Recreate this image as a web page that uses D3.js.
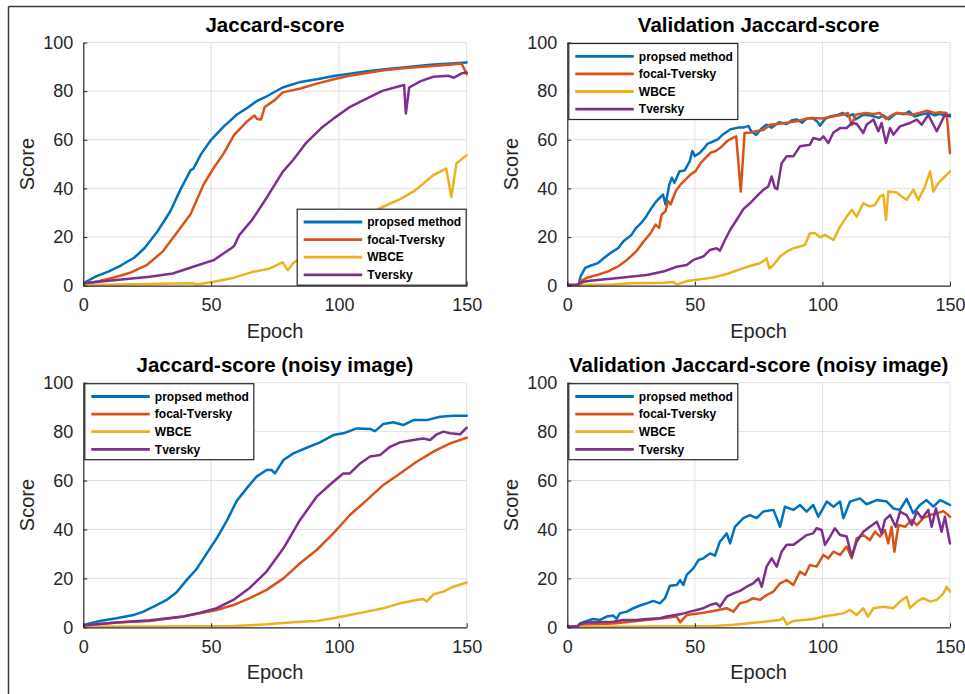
<!DOCTYPE html>
<html>
<head>
<meta charset="utf-8">
<script src="https://cdn.jsdelivr.net/npm/d3@7"></script>
<style>
  html, body { margin: 0; padding: 0; background: #fff; }
  svg { display: block; }
  text { font-family: "Liberation Sans", Arial, Helvetica, sans-serif; }
</style>
</head>
<body>
<svg id="chart" width="965" height="694"></svg>
<script>
// ---------------- DATA ----------------
const seriesNames = ["propsed method", "focal-Tversky", "WBCE", "Tversky"];
const panelTitles = ["Jaccard-score", "Validation Jaccard-score", "Jaccard-score (noisy image)", "Validation Jaccard-score (noisy image)"];
const xTicks = [0, 50, 100, 150];
const yTicks = [0, 20, 40, 60, 80, 100];
const xLabel = "Epoch";
const yLabel = "Score";

// Panel 1: Jaccard-score  ([epoch, score])
const jacProposed = [[0,1],[5,3.8],[10,5.9],[15,8.5],[20,11.6],[24,15.5],[29,22.3],[34,30.5],[38,39.5],[42,47.5],[43,48],[46,54],[50,60],[55,65.5],[60,70.3],[64,73],[68,76],[72,78],[78,81.5],[85,83.8],[92,85],[98,86.2],[105,87.3],[111,88.2],[118,89],[124,89.6],[130,90.2],[137,91],[144,91.4],[150,91.8]];
const jacFocal = [[0,0.8],[6,1.8],[12,3.4],[18,5.2],[25,8.6],[31,14],[36,21],[42,29.5],[47,41.5],[51,48.4],[55,54.5],[59,62],[64,67.5],[67,70],[68,68.5],[69.5,68.3],[71,73.5],[75,76.4],[78,79.5],[85,81.1],[91,83],[98,84.9],[104,86.3],[111,87.5],[117,88.5],[124,89.3],[130,89.8],[137,90.3],[143,90.9],[148,91.4],[150,87]];
const jacWBCE = [[0,0.3],[15,0.5],[30,0.8],[43,1],[44.5,0.5],[51,1.6],[59,3.3],[66,5.6],[73,7.1],[78,9.6],[80,6.4],[82,9.2],[90,15],[100,22],[110,28],[116,31.8],[120,33.8],[124,35.6],[130,39.3],[137,45.5],[142,48.2],[144,36.6],[146,50.3],[150,53.7]];
const jacTversky = [[0,1],[13,2.3],[26,3.7],[35,5],[43,7.8],[51,10.5],[58,15.5],[59,16.3],[61,20.8],[66,27],[72,36.6],[78,46.8],[82,51.6],[87,58.5],[93,64.7],[98,68.8],[104,73.3],[111,77],[117,80.1],[124,82.1],[125.5,82.5],[126.2,70.8],[127.5,81.5],[132,84.1],[137,85.9],[143,86.3],[145,85.5],[148,87.3],[150,87.7]];

// Panel 2: Validation Jaccard-score
const valProposed = [[0,0.3],[4.5,0.4],[5.2,3.8],[7,7.3],[9,8.2],[12,9.3],[14,11.1],[17,13.5],[20,15.5],[22,18.3],[25,20.7],[27,23.8],[29,25.8],[31,28.6],[33,32],[35,34.8],[36.5,36.4],[37.5,37.5],[38.5,33.4],[40,41.6],[41,44.4],[42,42.3],[44,47.1],[46,47.4],[48,51.2],[49,55.4],[50,53.3],[52,54.7],[54,57],[55,58.4],[57,59.2],[59,60.2],[61,62.2],[64,64.3],[67,65],[69,65],[71,65.7],[72,63.6],[74,62],[76,64.5],[78,66.2],[80,65],[83,67.2],[86,66.5],[88,68],[90,68.3],[92,67],[94,68.8],[96,69],[98,67.5],[99,65.8],[101,68.5],[103,69.6],[106,70.2],[108,71],[110,69.6],[112,70.5],[113,68.4],[116,70.3],[119,70],[122,69],[124,70],[126,68.4],[129,71],[132,70.5],[134,71.7],[136,69.6],[139,70.5],[142,71],[144,70],[146,70.7],[148,69.8],[150,70.3]];
const valFocal = [[0,0.3],[4.5,0.4],[5.2,1.8],[8,3.4],[12,4.5],[16,5.9],[20,8],[23.5,10.7],[27,14.1],[30,18.3],[32.7,21.7],[34.6,25.1],[36,23.8],[37,29.3],[38.5,30.6],[39.5,34.8],[40.5,33.4],[42.5,38.9],[44.4,41.6],[46.4,43.7],[48.3,45.7],[50.3,47.1],[52.3,50.5],[54.2,52.6],[56.2,54.7],[58.2,55.4],[60,56.7],[62.7,59.5],[65,60.9],[66.2,61.4],[68,38.7],[69.5,62.8],[72,63],[74,63.5],[77,64.1],[79.5,66.2],[83,66.6],[86,67],[90,67.6],[93,68.5],[96,69],[100,68.8],[103,69.4],[106,70],[108,70.3],[110,71],[111.5,66.2],[113,70.3],[117,71],[120,70.6],[122.5,71],[125,68.5],[127,70],[129,71],[132,70.8],[135,70.3],[138,71],[141,72],[144,71],[146,71.3],[148.7,71],[150,54.5]];
const valWBCE = [[0,0.2],[10,0.4],[18,0.5],[24.6,1],[37.6,1.2],[41.6,1.5],[42.9,0.5],[46.8,1.9],[52,2.6],[57.2,3.4],[62.5,4.8],[67.7,6.7],[71.6,8.1],[75.5,9.2],[77.5,10.6],[78.1,11.3],[79.2,7.1],[80.8,8.5],[83.4,12],[86,14],[88.6,15.4],[91.2,16.1],[93.2,16.8],[95.1,21.6],[97.1,21.6],[99,19.9],[101,20.9],[104.3,18.8],[106.9,24.3],[109.5,28.4],[111.5,31.2],[113.4,28.4],[116,33.9],[118.6,32.6],[120.6,33.2],[122.6,36.7],[123.9,37.4],[124.9,27.1],[125.8,38.7],[129.1,38.3],[131.1,36.7],[133,35.3],[135.6,39.4],[137.6,35.3],[140.2,40.8],[142.2,47],[143.5,38.7],[145.4,42.2],[148,44.9],[150,47]];
const valTversky = [[0,0.3],[3.7,0.3],[6.3,1.6],[8.9,2],[18,3],[24.6,3.7],[31.1,4.4],[37.6,5.8],[42.9,7.8],[46.8,8.5],[49.4,10.6],[53.3,12],[55.9,14.7],[58.5,15.4],[59.8,14.4],[61.8,18.8],[63.8,22.9],[66.4,27.1],[69,31.5],[71.6,33.9],[74.2,36.7],[76.8,39.4],[78.8,40.8],[80.1,44.9],[81.4,40.1],[82.3,39.7],[84,50.4],[86,53.2],[88.6,53.2],[91.2,57.3],[95.1,58],[96.4,60.7],[99,60],[100.4,61.4],[102.3,58.7],[104.3,63],[106.9,64.8],[109.5,64.8],[111.5,66.9],[113.4,66.6],[116,62.8],[117.3,66.2],[120,68.3],[121.9,63.5],[123.2,66.9],[124.9,58.7],[126.5,64.8],[127.8,62.1],[130.4,65.5],[134.3,66.9],[137,68.3],[138.9,66.2],[141.5,70.3],[144.8,63.5],[148,70.3],[150,69.6]];

// Panel 3: Jaccard-score (noisy image)
const noisyProposed = [[0,1],[6.5,2.6],[13,3.7],[19.6,5],[23.5,6.4],[28.7,9.1],[32.6,11.2],[36.5,14.3],[40.4,19.3],[44.3,23.8],[48.3,30.2],[52.2,36.4],[56.1,43.5],[60,51.6],[63.9,56.8],[67.8,61.6],[71.7,64.3],[73.7,64.3],[75,62.9],[78.3,68.4],[82.2,71.1],[87.4,73.4],[92.6,75.6],[97.8,78.6],[101.7,79.3],[107,81.3],[112.2,81.1],[114.1,80.2],[117.4,83.1],[121.3,83.8],[125.2,82.7],[129.1,84.7],[134.3,84.7],[139.6,86.1],[144.8,86.5],[150,86.5]];
const noisyFocal = [[0,0.7],[13,2],[26.1,2.6],[39.1,4.4],[45.7,5.7],[52.2,7.1],[58.7,9.1],[65.2,11.9],[71.7,15.3],[78.3,20],[84.8,26.2],[91.3,31.6],[97.8,38.4],[104.3,45.9],[110.9,52],[117.4,58.2],[123.9,62.9],[130.4,67.7],[137,71.8],[143.5,75.2],[150,77.5]];
const noisyWBCE = [[0,0.3],[30,0.3],[58.7,0.5],[71.7,1.2],[84.8,2.3],[91.3,2.6],[97.8,3.7],[104.3,5],[110.9,6.4],[117.4,7.8],[123.9,9.8],[130.4,11.2],[133,11.6],[134.3,10.5],[137,13.5],[140.9,14.6],[144.8,16.6],[150,18.3]];
const noisyTversky = [[0,0.7],[13,2],[26.1,2.9],[39.1,4.4],[45.7,6],[52.2,7.8],[58.7,11.2],[65.2,16.2],[71.7,22.8],[78.3,32.3],[84.8,43.9],[91.3,53.4],[97.8,59.5],[101.7,62.9],[104.3,62.9],[108.3,67],[112.2,69.8],[116.1,70.4],[120,73.8],[123.9,75.6],[129.1,76.6],[133,77.2],[135.7,76.6],[138.3,78.9],[140.9,80],[143.5,79.3],[147.4,78.9],[150,81.6]];

// Panel 4: Validation Jaccard-score (noisy image)
const noisyValProposed = [[0,0.3],[3.7,0.3],[5,1.6],[7.6,2.6],[10.2,3.4],[12.8,3],[15.4,4.4],[18,4.8],[19.3,3.4],[20.6,5.7],[23.3,6.4],[25.9,7.8],[28.5,8.9],[31.1,9.8],[33.7,10.8],[36.3,9.8],[38.3,11.9],[40.2,17],[42.9,17.3],[44.2,19.3],[45.5,17.3],[46.8,21.4],[49.4,24.1],[51.4,27.5],[53.3,28.2],[55.9,30.2],[57.9,29.3],[59.8,35],[62.5,38.4],[63.8,34.3],[65.7,41.1],[69,44.6],[71.6,45.9],[74.2,44.6],[76.8,47.3],[80.8,48],[83.4,41.1],[85.3,49.3],[88.6,48],[91.2,50],[93.8,47.3],[96.4,50],[98.4,45.2],[101.7,51.4],[104.3,49.3],[106.9,51.4],[108.2,44.6],[110.8,51.4],[114.7,52.7],[117.3,50.3],[121.3,52],[125.2,51.4],[127.8,48.6],[130.4,48],[133,52.5],[135.6,46.6],[138.2,50],[140.8,52],[143.5,49.3],[146.1,52],[148,51.1],[150,50]];
const noisyValFocal = [[0,0.3],[4,0.3],[5,1],[18,1.6],[24.6,2.3],[31.1,3],[37.6,3.7],[42.9,4.4],[44.2,2],[46.8,5],[52,5.7],[57.2,6.7],[62.5,7.8],[65.1,6.4],[67.7,9.8],[70.3,10.5],[72.9,11.9],[75.5,11.2],[78.1,13.2],[80.8,14.6],[83.4,18],[86,19.3],[88.6,17.3],[91.2,22.8],[93.2,21.4],[95.1,25.5],[97.7,24.8],[100.4,29.6],[102.3,28.2],[104.3,30.9],[106.9,29.6],[109.5,33],[111.5,28.2],[113.4,36.4],[116,37.7],[118.6,35.7],[120.6,39.1],[122.6,37.1],[124.5,39.8],[125.8,34.3],[127.1,41.1],[128.2,30.9],[129.8,41.8],[132.4,41.1],[135,43.9],[137,41.8],[139.5,44.6],[142.2,45.9],[144.8,46.6],[147.4,47.5],[150,45.2]];
const noisyValWBCE = [[0,0.2],[30,0.3],[57.2,0.5],[65.1,1],[70.3,1.6],[76.8,2.3],[83.4,3],[84.6,4],[86,1.2],[88.6,2.6],[92.5,3],[96.4,3.4],[100.4,4.4],[104.3,5],[108.2,5.7],[110.8,7.1],[113.4,5],[116,7.8],[117.9,4.4],[120,7.8],[123.9,8.4],[127.8,7.8],[130.4,10.5],[133,12.5],[134.3,7.8],[137,10.5],[139.5,11.9],[142.2,10.5],[144.8,11.2],[147.4,13.9],[148.7,16.6],[150,14.6]];
const noisyValTversky = [[0,0.3],[4,0.3],[5,1.2],[7.6,2],[18,2.3],[22,3],[27.2,3],[31.1,3.4],[36.3,3.7],[38.9,4.4],[44.2,5.3],[48.1,6.4],[50.7,7.1],[53.3,7.8],[55.9,9.1],[58.5,9.8],[59.8,8.4],[62.5,12.5],[65.1,13.9],[67.7,14.9],[70.3,16.6],[72.9,18],[74.9,20],[76.2,16.6],[78.1,24.8],[80.1,28.2],[82.1,24.8],[84,30.9],[86,33.7],[88.6,33.7],[91.2,35.7],[93.8,37.7],[96.4,38.4],[97.7,40.5],[99.7,39.8],[101,33.7],[103,37.1],[104.9,40.5],[106.9,37.7],[109.5,37.1],[111.5,28.9],[113.4,35],[116,39.1],[118.6,41.1],[121.3,43.2],[123.2,38.4],[124.5,43.9],[126.5,45.9],[128.7,41.1],[130.4,47.3],[133,45.9],[135,41.8],[137,47.3],[139,44.6],[141.5,48],[142.8,41.1],[144.5,48.6],[146.7,39.1],[148,45.2],[150,34.3]];

// ---------------- STYLE / LAYOUT ----------------
const colors = ["#0072BD", "#D95319", "#EDB120", "#7E2F8E"];
const axisColor = "#262626";
const gridColor = "#e1e1e1";

const panels = [
  { title: panelTitles[0], data: [jacProposed, jacFocal, jacWBCE, jacTversky],
    left: 83.3, top: 42.5, width: 383.4, height: 243.2, legend: "se" },
  { title: panelTitles[1], data: [valProposed, valFocal, valWBCE, valTversky],
    left: 567.3, top: 42.5, width: 382.7, height: 243.2, legend: "nw" },
  { title: panelTitles[2], data: [noisyProposed, noisyFocal, noisyWBCE, noisyTversky],
    left: 83.3, top: 382.7, width: 383.4, height: 244.6, legend: "nw" },
  { title: panelTitles[3], data: [noisyValProposed, noisyValFocal, noisyValWBCE, noisyValTversky],
    left: 567.3, top: 382.7, width: 382.7, height: 244.6, legend: "nw" }
];

const svg = d3.select("#chart");

// outer frame
svg.append("line").attr("x1", 8.5).attr("x2", 8.5).attr("y1", 6.5).attr("y2", 694)
  .attr("stroke", "#3a3a3a").attr("stroke-width", 1.5);
svg.append("line").attr("x1", 8.5).attr("x2", 965).attr("y1", 6.5).attr("y2", 6.5)
  .attr("stroke", "#3a3a3a").attr("stroke-width", 1.5);

panels.forEach((p, pi) => {
  const g = svg.append("g").attr("transform", `translate(${p.left},${p.top})`);
  const x = d3.scaleLinear().domain([0, 150]).range([0, p.width]);
  const y = d3.scaleLinear().domain([0, 100]).range([p.height, 0]);

  // grid
  g.append("g").selectAll("line.gx").data(xTicks.filter(d => d > 0)).join("line")
    .attr("x1", d => x(d)).attr("x2", d => x(d)).attr("y1", 0).attr("y2", p.height)
    .attr("stroke", gridColor).attr("stroke-width", 1);
  g.append("g").selectAll("line.gy").data(yTicks.filter(d => d > 0)).join("line")
    .attr("x1", 0).attr("x2", p.width).attr("y1", d => y(d)).attr("y2", d => y(d))
    .attr("stroke", gridColor).attr("stroke-width", 1);

  // clip
  const clipId = "clip" + pi;
  g.append("clipPath").attr("id", clipId).append("rect")
    .attr("x", 0).attr("y", -2).attr("width", p.width + 2).attr("height", p.height + 2);

  const line = d3.line().x(d => x(d[0])).y(d => y(d[1]));
  const lg = g.append("g").attr("clip-path", `url(#${clipId})`);
  p.data.forEach((s, si) => {
    lg.append("path").datum(s).attr("d", line)
      .attr("fill", "none").attr("stroke", colors[si]).attr("stroke-width", 2.5)
      .attr("stroke-linejoin", "round").attr("stroke-linecap", "round");
  });

  // axes
  const xAxis = d3.axisBottom(x).tickValues(xTicks).tickSizeInner(-4).tickSizeOuter(0).tickPadding(13);
  const yAxis = d3.axisLeft(y).tickValues(yTicks).tickSizeInner(-4).tickSizeOuter(0).tickPadding(10);
  const gx = g.append("g").attr("transform", `translate(0,${p.height})`).call(xAxis);
  const gy = g.append("g").call(yAxis);
  [gx, gy].forEach(a => {
    a.select(".domain").attr("stroke", axisColor).attr("stroke-width", 1.2);
    a.selectAll(".tick line").attr("stroke", axisColor).attr("stroke-width", 1);
    a.selectAll(".tick text").attr("fill", axisColor).style("font-size", "18px")
      .style("font-family", '"Liberation Sans", Arial, Helvetica, sans-serif');
  });

  // axis labels
  g.append("text").attr("x", p.width / 2).attr("y", p.height + 52)
    .attr("text-anchor", "middle").attr("fill", axisColor).style("font-size", "20px").text(xLabel);
  g.append("text").attr("transform", `translate(${-49},${p.height / 2}) rotate(-90)`)
    .attr("text-anchor", "middle").attr("fill", axisColor).style("font-size", "20px").text(yLabel);

  // title
  g.append("text").attr("x", p.width / 2).attr("y", -11)
    .attr("text-anchor", "middle").attr("fill", "#000").style("font-size", "20.5px")
    .style("font-weight", "bold").text(p.title);

  // legend
  const lw = 169, lh = 76;
  const lx = p.legend === "se" ? p.width - lw - 0.5 : 1.5;
  const ly = p.legend === "se" ? p.height - lh - 0.5 : 1;
  const leg = g.append("g").attr("transform", `translate(${lx},${ly})`);
  leg.append("rect").attr("width", lw).attr("height", lh)
    .attr("fill", "#fff").attr("stroke", axisColor).attr("stroke-width", 1.2);
  seriesNames.forEach((name, i) => {
    const yy = 12.8 + i * 17.6;
    leg.append("line").attr("x1", 6.5).attr("x2", 65).attr("y1", yy).attr("y2", yy)
      .attr("stroke", colors[i]).attr("stroke-width", 2.8);
    leg.append("text").attr("x", 70).attr("y", yy + 4.3)
      .attr("fill", "#000").style("font-size", "12px").style("font-weight", "bold").text(name);
  });
});
</script>
</body>
</html>
